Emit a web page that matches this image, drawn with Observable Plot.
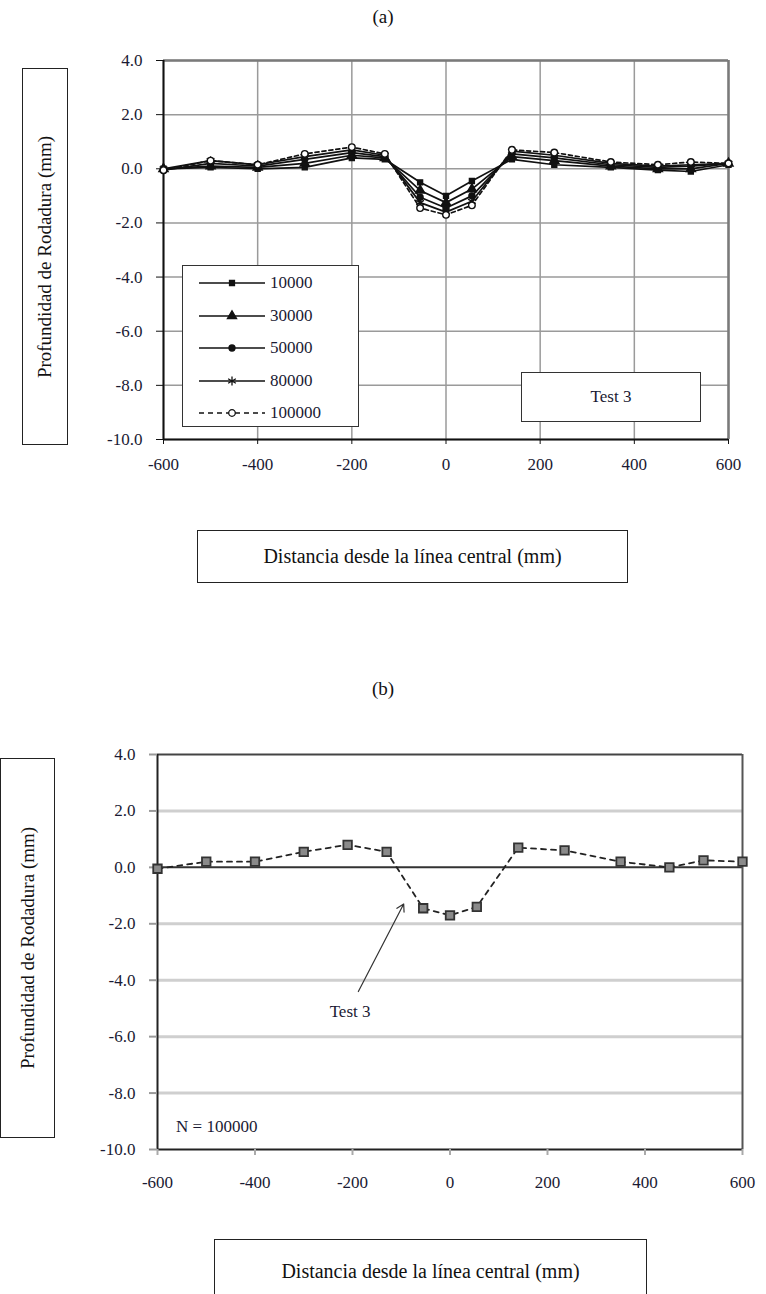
<!DOCTYPE html>
<html>
<head>
<meta charset="utf-8">
<script src="https://cdn.jsdelivr.net/npm/d3@7"></script>
<script src="https://cdn.jsdelivr.net/npm/@observablehq/plot@0.6"></script>
<style>
  body { margin:0; background:#fff; }
  #page { position:relative; width:766px; height:1294px; overflow:hidden; font-family:"Liberation Serif", "Times New Roman", serif; color:#111; }
  #page svg, #page svg text { font-family:"Liberation Serif", "Times New Roman", serif !important; }
  .abs { position:absolute; }
  .ybox { position:absolute; border:1px solid #222; background:#fff; box-sizing:border-box; }
  .ybox span { position:absolute; left:50%; top:50%; transform:translate(-50%,-50%) rotate(-90deg); white-space:nowrap; font-size:19px; }
  .xbox { position:absolute; border:1px solid #222; background:#fff; box-sizing:border-box; display:flex; align-items:center; justify-content:center; font-size:20px; white-space:nowrap; }
  .legend { position:absolute; border:1.5px solid #333; background:#fff; box-sizing:border-box; }
  .legend .row { position:absolute; left:0; height:20px; display:flex; align-items:center; font-size:17px; color:#1a1a33; }
  .t3box { position:absolute; border:1.5px solid #333; background:#fff; box-sizing:border-box; display:flex; align-items:center; justify-content:center; font-size:17px; color:#1a1a33; }
</style>
</head>
<body>
<div id="page"></div>
<script>
// ---------- data ----------
const xTicks = [-600, -400, -200, 0, 200, 400, 600];
const yTicks = [4, 2, 0, -2, -4, -6, -8, -10];

// Chart (a): five load repetitions
const seriesNames = ["10000", "30000", "50000", "80000", "100000"];
const xA = [-600, -500, -400, -300, -200, -130, -55, 0, 55, 140, 230, 350, 450, 520, 600];
const s10000  = [0.0, 0.05, 0.0, 0.05, 0.4, 0.35, -0.5, -1.0, -0.45, 0.35, 0.15, 0.05, -0.05, -0.1, 0.15];
const s30000  = [0.0, 0.1, 0.05, 0.2, 0.5, 0.4, -0.8, -1.25, -0.75, 0.45, 0.3, 0.1, 0.0, 0.0, 0.2];
const s50000  = [-0.05, 0.2, 0.1, 0.35, 0.6, 0.45, -1.05, -1.45, -1.0, 0.55, 0.4, 0.15, 0.05, 0.1, 0.2];
const s80000  = [0.0, 0.3, 0.15, 0.45, 0.7, 0.5, -1.25, -1.6, -1.2, 0.65, 0.5, 0.2, 0.1, 0.15, 0.2];
const s100000 = [-0.05, 0.3, 0.15, 0.55, 0.8, 0.55, -1.45, -1.7, -1.35, 0.7, 0.6, 0.25, 0.15, 0.25, 0.2];

// Chart (b): N = 100000
const xB = [-600, -500, -400, -300, -210, -130, -55, 0, 55, 140, 235, 350, 450, 520, 600];
const yB = [-0.05, 0.2, 0.2, 0.55, 0.8, 0.55, -1.45, -1.7, -1.4, 0.7, 0.6, 0.2, 0.0, 0.25, 0.2];

// annotations of chart (b)
const arrowB = [{x1: -188, y1: -4.4, x2: -95, y2: -1.3}];
const labelB = [{x: -205, y: -5.1, text: "Test 3"}];
const noteB = [{x: -562, y: -9.2, text: "N = 100000"}];

// ---------- helpers ----------
const FONT = "Liberation Serif, Times New Roman, serif";
const page = document.getElementById("page");
function el(tag, cls, style, html) {
  const e = document.createElement(tag);
  if (cls) e.className = cls;
  Object.assign(e.style, style);
  if (html !== undefined) e.innerHTML = html;
  page.appendChild(e);
  return e;
}
const fmtX = d => String(d);
const fmtY = d => d.toFixed(1);

const seriesValues = [s10000, s30000, s50000, s80000, s100000];
const dataA = [];
seriesNames.forEach((name, i) => xA.forEach((x, j) => dataA.push({series: name, x, y: seriesValues[i][j]})));
const dataB = xB.map((x, i) => ({x, y: yB[i]}));

const symbolOf = {"10000": "square", "30000": "triangle", "50000": "circle", "80000": "asterisk", "100000": "circle"};
const sizeOf = {"10000": 2.8, "30000": 3.4, "50000": 3.0, "80000": 4.2, "100000": 3.3};
const fillOf = {"10000": "#111", "30000": "#111", "50000": "#111", "80000": "none", "100000": "#fff"};

// ---------- titles ----------
el("div", "abs", {left: "0px", width: "766px", top: "6px", textAlign: "center", fontSize: "19px"}, "(a)");
el("div", "abs", {left: "0px", width: "766px", top: "678px", textAlign: "center", fontSize: "19px"}, "(b)");

// ---------- chart (a) ----------
const marksA = [
  Plot.gridX(xTicks, {stroke: "#9a9a9a", strokeOpacity: 1, strokeWidth: 1.5}),
  Plot.gridY(yTicks, {stroke: "#9a9a9a", strokeOpacity: 1, strokeWidth: 1.5}),
  Plot.ruleY([4], {stroke: "#7a7a7a", strokeWidth: 2.5}),
  Plot.ruleX([600], {stroke: "#7a7a7a", strokeWidth: 2.5}),
  Plot.ruleX([-600], {stroke: "#111", strokeWidth: 2}),
  Plot.ruleY([-10], {stroke: "#111", strokeWidth: 2}),
  Plot.axisY({ticks: yTicks, tickFormat: fmtY, tickSize: 7, tickPadding: 14, stroke: "#111", fill: "#1a1a33", fontFamily: FONT, fontSize: 17, label: null}),
  Plot.axisX({ticks: xTicks, tickFormat: fmtX, tickSize: 5, tickPadding: 13, stroke: "#111", fill: "#1a1a33", fontFamily: FONT, fontSize: 17, label: null})
];
seriesNames.forEach(name => {
  const d = dataA.filter(r => r.series === name);
  marksA.push(Plot.line(d, {x: "x", y: "y", stroke: "#111", strokeWidth: 1.7, strokeDasharray: name === "100000" ? "4,3" : null}));
});
seriesNames.forEach(name => {
  const d = dataA.filter(r => r.series === name);
  marksA.push(Plot.dot(d, {x: "x", y: "y", symbol: () => symbolOf[name], r: sizeOf[name], fill: fillOf[name], stroke: "#111", strokeWidth: 1.4}));
});

const chartA = Plot.plot({
  width: 766, height: 500,
  marginLeft: 163, marginRight: 38, marginTop: 60, marginBottom: 61,
  x: {domain: [-600, 600]},
  y: {domain: [-10, 4]},
  symbol: {type: "identity"},
  style: `font-family: ${FONT}; font-size: 17px; background: transparent; overflow: visible;`,
  marks: marksA
});
const wrapA = el("div", "abs", {left: "0px", top: "0px"});
wrapA.appendChild(chartA);

// y label box (a)
el("div", "ybox", {left: "22px", top: "68px", width: "46px", height: "377px"}, "<span>Profundidad de Rodadura (mm)</span>");
// x label box (a)
el("div", "xbox", {left: "197px", top: "530px", width: "431px", height: "53px"}, "Distancia desde la línea central (mm)");

// legend (a)
const leg = el("div", "legend", {left: "182px", top: "265px", width: "177px", height: "162px"});
seriesNames.forEach((name, i) => {
  const row = document.createElement("div");
  row.className = "row";
  row.style.top = (7 + i * 32.5) + "px";
  const sw = d3.create("svg").attr("width", 86).attr("height", 20);
  sw.append("line").attr("x1", 16).attr("x2", 82).attr("y1", 10).attr("y2", 10)
    .attr("stroke", "#111").attr("stroke-width", 1.7).attr("stroke-dasharray", name === "100000" ? "5,4" : null);
  const sym = d3.symbol().type({square: d3.symbolSquare, triangle: d3.symbolTriangle, circle: d3.symbolCircle, asterisk: d3.symbolAsterisk}[symbolOf[name]]).size(Math.PI * sizeOf[name] * sizeOf[name]);
  sw.append("path").attr("d", sym()).attr("transform", "translate(49,10)")
    .attr("fill", fillOf[name]).attr("stroke", "#111").attr("stroke-width", 1.3);
  row.appendChild(sw.node());
  const lab = document.createElement("span");
  lab.textContent = name;
  lab.style.marginLeft = "1px";
  row.appendChild(lab);
  leg.appendChild(row);
});
// Test 3 box (a)
el("div", "t3box", {left: "521px", top: "372px", width: "180px", height: "50px"}, "Test 3");

// ---------- chart (b) ----------
const chartB = Plot.plot({
  width: 766, height: 500,
  marginLeft: 157, marginRight: 24, marginTop: 54, marginBottom: 51,
  x: {domain: [-600, 600]},
  y: {domain: [-10, 4]},
  style: `font-family: ${FONT}; font-size: 17px; background: transparent; overflow: visible;`,
  marks: [
    Plot.gridY([2, -2, -4, -6, -8], {stroke: "#cfcfcf", strokeOpacity: 1, strokeWidth: 3}),
    Plot.ruleY([0], {stroke: "#333", strokeWidth: 2}),
    Plot.ruleY([4], {stroke: "#444", strokeWidth: 2}),
    Plot.ruleX([600], {stroke: "#555", strokeWidth: 2}),
    Plot.ruleX([-600], {stroke: "#222", strokeWidth: 2}),
    Plot.ruleY([-10], {stroke: "#222", strokeWidth: 2}),
    Plot.axisY({ticks: yTicks, tickFormat: fmtY, tickSize: 8, tickPadding: 14, stroke: "#999", strokeWidth: 2, fill: "#1a1a33", fontFamily: FONT, fontSize: 17, label: null}),
    Plot.axisX({ticks: xTicks, tickFormat: fmtX, tickSize: 6, tickPadding: 20, stroke: "#aaa", strokeWidth: 2, fill: "#1a1a33", fontFamily: FONT, fontSize: 17, label: null}),
    Plot.line(dataB, {x: "x", y: "y", stroke: "#222", strokeWidth: 1.8, strokeDasharray: "5,5"}),
    Plot.dot(dataB, {x: "x", y: "y", symbol: "square", r: 4.8, fill: "#8a8a8a", stroke: "#333", strokeWidth: 1.8}),
    Plot.arrow(arrowB, {x1: "x1", y1: "y1", x2: "x2", y2: "y2", stroke: "#333", strokeWidth: 1.2, headLength: 10}),
    Plot.text(labelB, {x: "x", y: "y", text: "text", fill: "#1a1a33", fontSize: 17, fontFamily: FONT}),
    Plot.text(noteB, {x: "x", y: "y", text: "text", fill: "#1a1a33", fontSize: 17, fontFamily: FONT, textAnchor: "start"})
  ]
});
const wrapB = el("div", "abs", {left: "0px", top: "700px"});
wrapB.appendChild(chartB);

// y label box (b)
el("div", "ybox", {left: "0px", top: "758px", width: "55px", height: "380px"}, "<span>Profundidad de Rodadura (mm)</span>");
// x label box (b)
el("div", "xbox", {left: "214px", top: "1239px", width: "433px", height: "70px", alignItems: "flex-start", paddingTop: "20px"}, "Distancia desde la línea central (mm)");
</script>
</body>
</html>
